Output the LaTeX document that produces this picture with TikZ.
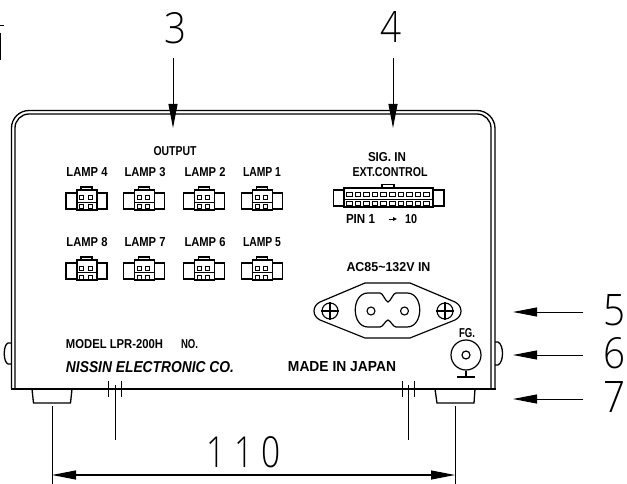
\documentclass[tikz,border=0pt]{standalone}
\usepackage{graphicx}
\usepackage{fontspec}
\setmainfont{Liberation Sans}
\newfontfamily\thinfont{Open Sans Light}
\usetikzlibrary{arrows.meta}
\newcommand{\lab}[6]{\node[inner sep=0pt,anchor=center] (#1) at (#2,#3) {\resizebox{#4pt}{#5pt}{\bfseries #6}};}
\newcommand{\bignum}[6]{\node[inner sep=0pt,anchor=center] (#1) at (#2,#3) {\resizebox{#4pt}{#5pt}{\thinfont #6}};}
\newcommand{\lampconn}[2]{%
  \begin{scope}[shift={(#1,#2)}]
    \draw[conn] (0,6) rectangle (41,22);
    \draw[conn,fill=white] (11,3) rectangle (31,23);
    \draw[conn] (15,0) rectangle (26,3);
    \draw[pinline] (13.5,9) rectangle (17.5,13);
    \draw[pinline] (22,9) rectangle (26,13);
    \draw[pinline] (13.5,18) rectangle (17.5,22);
    \draw[pinline] (22,18) rectangle (26,22);
    \draw[pinline] (11,15.5) -- (31,15.5);
  \end{scope}}
\tikzset{
  conn/.style={line width=1.2pt},
  pinline/.style={line width=1pt},
  body/.style={line width=1.3pt},
  leader/.style={line width=1pt,-{Triangle[length=24pt,width=9pt]}},
  dimline/.style={line width=1.1pt,{Triangle[length=24pt,width=9pt]}-{Triangle[length=24pt,width=9pt]}},
  ext/.style={line width=1pt}
}
\begin{document}
\begin{tikzpicture}[x=1pt,y=-1pt]
\useasboundingbox (0,0) rectangle (627,484);
% fragment at the left edge
\draw[line width=0.8pt] (0,25) -- (4,25) (0.4,33) -- (0.4,60);
% housing
\draw[body] (11.5,389) -- (11.5,128) arc[start angle=180,end angle=270,radius=17.5] -- (477,110.5) arc[start angle=270,end angle=360,radius=18] -- (495,389);
\draw[body] (15,389) -- (15,128) arc[start angle=180,end angle=270,radius=14] -- (477,114) arc[start angle=270,end angle=360,radius=14] -- (491,389);
\draw[line width=1.5pt] (11,389) -- (495.5,389);
% feet
\draw[body] (32,389) -- (33.5,403) -- (70.5,403) -- (72,389);
\draw[body] (435,389) -- (437,403) -- (474,403) -- (475,389);
% side bumps
\draw[body] (11,343) -- (8,343) .. controls (3,345) and (3,362) .. (8,364) -- (11,364);
\draw[body] (495,342) -- (498,342) .. controls (504,345) and (504,362) .. (498,365) -- (495,365);
% labels on panel
\lab{output}{175}{151}{43}{9}{OUTPUT}
\lab{l4}{87}{172}{41}{9}{LAMP 4}
\lab{l3}{145}{172}{41}{9}{LAMP 3}
\lab{l2}{205}{172}{41}{9}{LAMP 2}
\lab{l1}{262}{172}{38}{9}{LAMP 1}
\lab{l8}{87}{242}{41}{9}{LAMP 8}
\lab{l7}{145}{242}{41}{9}{LAMP 7}
\lab{l6}{205}{242}{41}{9}{LAMP 6}
\lab{l5}{262}{242}{38}{9}{LAMP 5}
\lampconn{66}{187}\lampconn{123.5}{187}\lampconn{183.5}{187}\lampconn{241.5}{187}
\lampconn{66}{257}\lampconn{123.5}{257}\lampconn{183.5}{257}\lampconn{241.5}{257}
\lab{sig}{387}{157}{38}{9}{SIG. IN}
\lab{ext}{390}{172}{75}{9}{EXT.CONTROL}
% ext control connector
\draw[conn] (333.5,190) rectangle (444,206);
\draw[conn,fill=white] (344,188) rectangle (433,207);
\draw[conn] (382,184.5) rectangle (394,188);
\foreach \i in {0,...,9} {
  \draw[pinline] ({346.5+8.6*\i},192.5) rectangle ({352+8.6*\i},196.5);
  \draw[pinline] ({346.5+8.6*\i},201.5) rectangle ({352+8.6*\i},205.5);
}
\draw[pinline] (344,199.5) -- (433,199.5);
\lab{pina}{360.5}{219}{29}{9}{PIN 1}
\lab{pinb}{411}{219}{12}{9}{10}
\coordinate (pa) at (389,219); \coordinate (pb) at (397,219);
\draw[line width=0.9pt,-{Triangle[length=4pt,width=3.5pt]}] (pa) -- (pb);
\lab{ac}{388.5}{267.5}{84}{9}{AC85\textasciitilde132V IN}
% inlet
\draw[line width=1.2pt] (365,283) -- (410,283) -- (455,302) .. controls (463,306) and (463,316) .. (455,320) -- (410,338) -- (365,338) -- (320,320) .. controls (312,316) and (312,306) .. (320,302) -- cycle;
\draw[line width=1.2pt] (380,293) -- (368,293) .. controls (351,293) and (351,327) .. (368,327) -- (380,327) .. controls (383,327) and (385,321) .. (388,320) .. controls (391,321) and (393,327) .. (396,327) -- (407,327) .. controls (424,327) and (424,293) .. (407,293) -- (396,293) .. controls (393,293) and (391,301) .. (388,302) .. controls (385,301) and (383,293) .. (380,293) -- cycle;
\node[circle,draw,line width=1.1pt,inner sep=0pt,minimum size=8pt] (h1) at (371,311) {};
\node[circle,draw,line width=1.1pt,inner sep=0pt,minimum size=8pt] (h2) at (404.5,311) {};
\foreach \c/\n in {330/sa,445/sb} {
  \node[circle,draw,line width=1.1pt,inner sep=0pt,minimum size=16pt] (\n) at (\c,311) {};
  \draw[line width=1.1pt] (\n.west) -- (\n.east) (\n.north) -- (\n.south);
}
% FG terminal
\lab{fg}{467}{333}{16}{9}{FG.}
\node[circle,draw,line width=1.2pt,inner sep=0pt,minimum size=30pt] (fgo) at (466,355) {};
\node[circle,draw,line width=1.2pt,inner sep=0pt,minimum size=8pt] (fgi) at (466,355) {};
\coordinate (gl) at (457,377); \coordinate (gr) at (475,377); \coordinate (gm) at (466,377);
\draw[line width=1.1pt] (fgo.south) -- (gm) (gl) -- (gr);
% nameplate
\lab{model}{114.5}{344}{97}{9}{MODEL LPR-200H}
\lab{no}{189.5}{344}{17}{9}{NO.}
\lab{nissin}{150}{367}{168}{11}{\itshape NISSIN ELECTRONIC CO.}
\lab{made}{342}{367}{108}{10}{MADE IN JAPAN}
% break marks
\draw[ext] (108,381) -- (108,397) (121,381) -- (121,397) (115,385) -- (115,440);
\draw[ext] (402,381) -- (402,397) (414,381) -- (414,397) (408,385) -- (408,440);
% leaders and numbers
\bignum{n3}{176}{28.5}{22}{31}{3}
\bignum{n4}{390.5}{27.5}{21}{31}{4}
\bignum{n5}{614}{310.5}{22}{31}{5}
\bignum{n6}{614}{353.5}{22}{31}{6}
\bignum{n7}{614}{396.5}{22}{31}{7}
\bignum{n110}{244}{452.5}{74}{31}{1\hspace{.25em}1\hspace{.25em}0}
\coordinate (a3) at (173,58); \coordinate (b3) at (173,128);
\coordinate (a4) at (393,58); \coordinate (b4) at (393,128);
\coordinate (a5) at (583,312); \coordinate (b5) at (513,312);
\coordinate (a6) at (583,355); \coordinate (b6) at (513,355);
\coordinate (a7) at (583,399); \coordinate (b7) at (513,399);
\draw[leader] (a3) -- (b3);
\draw[leader] (a4) -- (b4);
\draw[leader] (a5) -- (b5);
\draw[leader] (a6) -- (b6);
\draw[leader] (a7) -- (b7);
% dimension
\coordinate (d1) at (52,406); \coordinate (d2) at (52,484);
\coordinate (d3) at (455,406); \coordinate (d4) at (455,484);
\coordinate (e1) at (52,475); \coordinate (e2) at (455,475);
\draw[ext] (d1) -- (d2) (d3) -- (d4);
\draw[dimline] (e1) -- (e2);
\end{tikzpicture}
\end{document}
